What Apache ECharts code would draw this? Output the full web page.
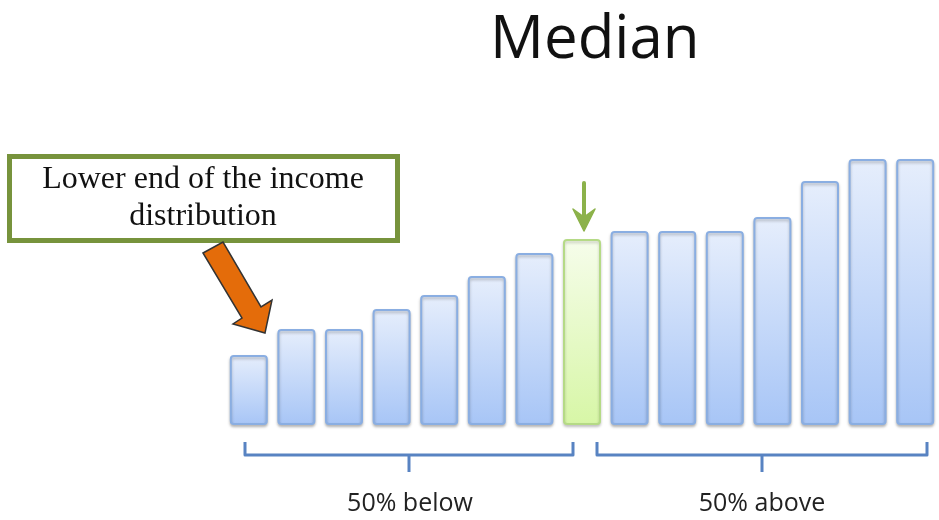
<!DOCTYPE html>
<html>
<head>
<meta charset="utf-8">
<script src="https://cdn.jsdelivr.net/npm/echarts@6/dist/echarts.min.js"></script>
<style>
  html, body { margin: 0; padding: 0; background: #fff; }
  #chart { width: 939px; height: 520px; }
</style>
</head>
<body>
<div id="chart"></div>
<script>
// incomes, sorted low to high (relative units)
const people = ['1', '2', '3', '4', '5', '6', '7', '8', '9', '10', '11', '12', '13', '14', '15']
const incomes = [70, 96, 96, 116, 130, 149, 172, 186, 194, 194, 194, 208, 244, 266, 266]
const medianIndex = 7
const groupLabels = ['50% below', '50% above']
const calloutText = 'Lower end of the income\ndistribution'

const blueBar = {
  color: new echarts.graphic.LinearGradient(0, 0, 0, 1, [
    { offset: 0, color: '#e6eefc' },
    { offset: 1, color: '#a7c5f6' },
  ]),
  borderColor: '#8aaee2',
  borderWidth: 2,
  borderRadius: 3,
  shadowColor: 'rgba(0,0,0,0.25)',
  shadowBlur: 3,
  shadowOffsetY: 2,
}
const greenBar = {
  color: new echarts.graphic.LinearGradient(0, 0, 0, 1, [
    { offset: 0, color: '#f6fdeb' },
    { offset: 1, color: '#d7f6a6' },
  ]),
  borderColor: '#b5da86',
  borderWidth: 2,
  borderRadius: 3,
  shadowColor: 'rgba(0,0,0,0.2)',
  shadowBlur: 3,
  shadowOffsetY: 2,
}

const chart = echarts.init(document.getElementById('chart'))

const bracketStyle = { stroke: '#5883c2', lineWidth: 3, fill: null, lineJoin: 'round' }
const labelFont = '25px "Open Sans"'

chart.setOption({
  animation: false,
  title: {
    text: 'Median',
    left: 485,
    top: 6,
    textStyle: { fontFamily: 'Open Sans', fontSize: 60, fontWeight: 'normal', color: '#111' },
  },
  grid: { left: 225, right: -3, top: 125, bottom: 95 },
  xAxis: {
    type: 'category',
    data: people,
    axisLine: { show: false },
    axisTick: { show: false },
    axisLabel: { show: false },
  },
  yAxis: {
    type: 'value',
    min: 0,
    max: 300,
    show: false,
    splitLine: { show: false },
  },
  series: [{
    type: 'bar',
    barWidth: 38,
    data: incomes.map((v, i) => ({
      value: v,
      itemStyle: i === medianIndex ? greenBar : blueBar,
    })),
  }],
  graphic: [
    // callout box
    {
      type: 'rect',
      shape: { x: 9.5, y: 156.5, width: 388, height: 84 },
      style: { fill: '#fff', stroke: '#77933c', lineWidth: 5 },
    },
    {
      type: 'text',
      x: 203, y: 198,
      style: {
        text: calloutText,
        font: '32px "Liberation Serif"',
        lineHeight: 37,
        fill: '#111',
        align: 'center',
        verticalAlign: 'middle',
      },
    },
    // orange arrow pointing at the lowest bar
    {
      type: 'polygon',
      shape: { points: [[203, 253], [223, 242], [261, 307], [272, 300], [265, 333], [233, 324], [242, 318]] },
      style: { fill: '#e46c0a', stroke: '#333', lineWidth: 1.5 },
    },
    // green arrow over the median
    {
      type: 'polyline',
      shape: { points: [[584, 183], [584, 226]] },
      style: { stroke: '#8cb24a', lineWidth: 4, lineCap: 'round' },
    },
    {
      type: 'polygon',
      shape: { points: [[573, 209], [584, 231], [595, 209], [584, 217]] },
      style: { fill: '#8cb24a', stroke: '#8cb24a', lineWidth: 1.5, lineJoin: 'round' },
    },
    // brackets
    { type: 'polyline', shape: { points: [[245, 442], [245, 455], [573, 455], [573, 442]] }, style: bracketStyle },
    { type: 'polyline', shape: { points: [[409, 455], [409, 472]] }, style: bracketStyle },
    { type: 'polyline', shape: { points: [[597, 442], [597, 455], [927, 455], [927, 442]] }, style: bracketStyle },
    { type: 'polyline', shape: { points: [[762, 455], [762, 472]] }, style: bracketStyle },
    {
      type: 'text', x: 410, y: 504,
      style: { text: groupLabels[0], font: labelFont, fill: '#222', align: 'center', verticalAlign: 'middle' },
    },
    {
      type: 'text', x: 762, y: 504,
      style: { text: groupLabels[1], font: labelFont, fill: '#222', align: 'center', verticalAlign: 'middle' },
    },
  ],
})
</script>
</body>
</html>
